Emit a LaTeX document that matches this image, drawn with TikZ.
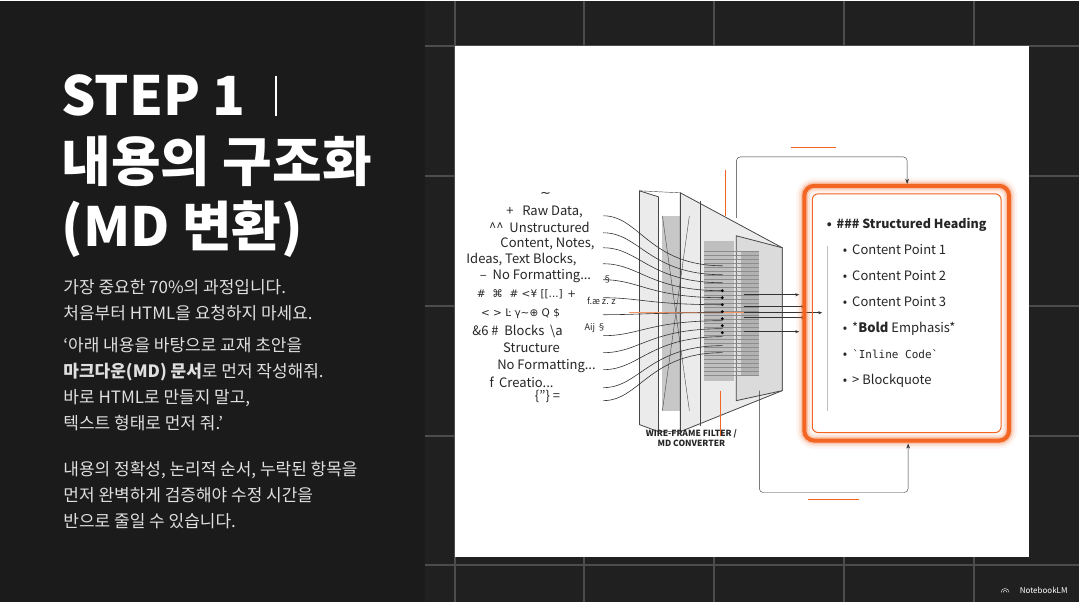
\documentclass[tikz,border=0pt]{standalone}
\usepackage{fontspec}
\setmainfont{Noto Sans CJK KR}
\newfontfamily\symfont{DejaVu Sans}
\newfontfamily\monofont{DejaVu Sans Mono}
\usetikzlibrary{arrows.meta}
\definecolor{bgdark}{RGB}{27, 27, 27}
\definecolor{bgtile}{RGB}{32, 32, 32}
\definecolor{myorange}{RGB}{242, 101, 34}
\definecolor{frame}{RGB}{70, 70, 70}
\begin{document}
\begin{tikzpicture}[
        x=1pt, y=-1pt,
        title/.style={anchor=base west, text=white, font=\fontsize{54}{54}\selectfont\bfseries},
        body/.style={anchor=base west, text=white!88!black, font=\fontsize{17}{17}\selectfont},
        raw/.style={anchor=base, font=\fontsize{13}{13}\selectfont, text=black!85},
        item/.style={anchor=base west, font=\fontsize{13}{13}\selectfont, text=black!85},
        flow/.style={semithick, draw=black!80, line cap=round},
        loop arrow/.style={thin, draw=black!80, -{Stealth[length=5pt]}},
        panel/.style={thick, draw=frame, fill=black!8},
        glow/.style={draw=myorange, rounded corners=10pt}
    ]

        % background
        \fill[bgdark] (0,0) rectangle (1080,602);
        \fill[bgtile] (425,0) rectangle (1080,602);
        \foreach \gx in {455,585,715,845,975}
            \draw[black!70, line width=2pt] (\gx,0) -- (\gx,602);
        \foreach \gy in {45,175,305,435,565}
            \draw[black!70, line width=2pt] (425,\gy) -- (1080,\gy);
        \fill[white] (455,45) rectangle (1030,557);

        % left text
        \node[title] (t1) at (58,115) {STEP 1};
        \draw[white!60, line width=2pt] (276,75) -- (276,115);
        \node[title] (t2) at (58,181) {내용의 구조화};
        \node[title] (t3) at (58,246) {(MD 변환)};
        \node[body] (b1) at (60,293) {가장 중요한 70\%의 과정입니다.};
        \node[body] (b2) at (60,319) {처음부터 HTML을 요청하지 마세요.};
        \node[body] (b3) at (60,351) {‘아래 내용을 바탕으로 교재 초안을};
        \node[body] (b4) at (60,377) {\textbf{마크다운(MD) 문서}로 먼저 작성해줘.};
        \node[body] (b5) at (60,403) {바로 HTML로 만들지 말고,};
        \node[body] (b6) at (60,429) {텍스트 형태로 먼저 줘.’};
        \node[body] (b7) at (60,475) {내용의 정확성, 논리적 순서, 누락된 항목을};
        \node[body] (b8) at (60,501) {먼저 완벽하게 검증해야 수정 시간을};
        \node[body] (b9) at (60,527) {반으로 줄일 수 있습니다.};

        % raw input
        \node[raw] (r0) at (546,197) {\symfont \char"223C};
        \node[raw] (r1) at (545,215) {+ \ \ Raw Data,};
        \node[raw] (r2) at (540,232) {\textasciicircum\textasciicircum\ \ Unstructured};
        \node[raw] (r3) at (548,247) {Content, Notes,};
        \node[raw] (r4) at (522,263) {Ideas, Text Blocks,};
        \node[raw] (r5) at (536,279) {– \ No Formatting...};
        \node[raw] (r6) at (527,297) {\symfont\fontsize{10.5}{10.5}\selectfont \#\ \ ⌘\ \ \# <¥ [[...] +};
        \node[raw] (r7) at (521,316) {\symfont\fontsize{10.5}{10.5}\selectfont < > Ŀ γ\textasciitilde ⊕ Q \$};
        \node[raw] (r8) at (518,335) {\&6 \# \ Blocks \ \textbackslash a};
        \node[raw] (r9) at (532,352) {Structure};
        \node[raw] (r10) at (547,369) {No Formatting...};
        \node[raw] (r11) at (522,387) {\textit{f}\,\ Creatio...};
        \node[raw] (r12) at (548,400) {\{"\} =};
        \node[raw, font=\fontsize{9}{9}\selectfont] (s1) at (608,282) {§};
        \node[raw, font=\fontsize{9}{9}\selectfont] (s2) at (602,304) {f.æ z. z};
        \node[raw, font=\fontsize{9}{9}\selectfont] (s3) at (596,330) {Aij §};

        % filter panels
        \draw[panel] (640,190) -- (659,196) -- (659,431) -- (640,424) -- cycle;
        \fill[black!22] (663,215) rectangle (690,410);
        \draw[panel] (681,192) -- (783,247) -- (783,390) -- (681,431) -- cycle;
        \draw[thick, frame] (701,200) -- (701,425);
        \fill[black!25] (705,240) rectangle (735,380);
        \draw[panel, fill=black!14] (737,235) -- (783,247) -- (783,390) -- (737,400) -- cycle;
        \fill[black!30] (742,250) rectangle (760,375);
        \foreach \hy in {250,254,...,375}
            \draw[black!45, very thin] (705,\hy) -- (760,\hy);
        \draw[thin, frame] (640,190) -- (681,192) (659,431) -- (681,431)
            (663,215) -- (690,410) (663,410) -- (690,215);

        % orange marks
        \draw[myorange, thick] (726,169) -- (726,215);
        \draw[myorange, thick] (721,390) -- (721,435);
        \draw[myorange, thick] (792,147) -- (837,147);
        \draw[myorange, thick] (809,499) -- (860,499);
        \draw[myorange!70, line width=1.5pt] (630,312) -- (800,312);

        % flows into filter
        \foreach \sy/\ey [count=\i] in {215/265,232/274,247/282,263/290,279/297,297/304,314/312,335/320,352/328,369/336,387/345,400/352}
            \draw[flow] (604,\sy) .. controls (640,\sy) and (650,\ey) .. (723,\ey);
        \foreach \dy in {290,297,...,336}
            \fill[black] (723,\dy) circle (1.6pt);
        \foreach \oy/\ox in {294/800,306/806,312/823,317/806,331/800}
            \draw[flow, -{Stealth[length=4pt]}] (745,\oy) -- (\ox,\oy);

        \node[font=\fontsize{8.5}{10}\selectfont\bfseries, align=center, text=black!85] (lbl) at (692,438)
            {WIRE-FRAME FILTER /\\MD CONVERTER};

        % output box
        \foreach \w/\o in {16/0.06,11/0.12,7/0.25}
            \draw[glow, line width=\w pt, opacity=\o] (805,185) rectangle (1010,440);
        \draw[glow, line width=4pt] (805,185) rectangle (1010,440);
        \draw[glow, line width=1pt, rounded corners=6pt] (813,193) rectangle (1002,432);
        \node[item, font=\fontsize{12.5}{12.5}\selectfont\bfseries] (h) at (824,228) {•\, \#\#\# Structured Heading};
        \draw[black!25] (828,245) -- (828,410);
        \node[item] (p1) at (840,254) {•\ \,Content Point 1};
        \node[item] (p2) at (840,280) {•\ \,Content Point 2};
        \node[item] (p3) at (840,306) {•\ \,Content Point 3};
        \node[item] (p4) at (840,332) {•\ \,*\textbf{Bold} Emphasis*};
        \node[item] (p5) at (840,358) {•\ \,{\monofont\fontsize{11}{11}\selectfont `Inline Code`}};
        \node[item] (p6) at (840,384) {•\ \,> Blockquote};

        % feedback loops
        \coordinate (topstart) at (737,217);
        \coordinate (botstart) at (760,390);
        \draw[loop arrow, rounded corners=4pt] (topstart) -- (737,156) -- (908,156) -- (908,183);
        \draw[loop arrow, rounded corners=4pt] (botstart) -- (760,492) -- (909,492) -- (909,443);

        \node[anchor=east, text=white, font=\fontsize{8}{8}\selectfont] (logo) at (1072,590) {NotebookLM};
        \draw[white, thin] (1002,592) arc (180:0:4pt) (1004,592) arc (180:0:2pt);
    \end{tikzpicture}
\end{document}
